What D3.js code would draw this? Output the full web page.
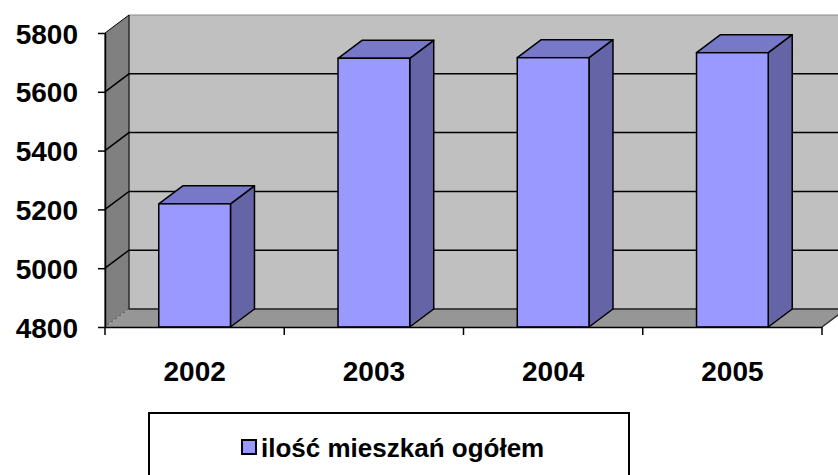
<!DOCTYPE html>
<html>
<head>
<meta charset="utf-8">
<script src="https://cdn.jsdelivr.net/npm/d3@7"></script>
<style>
  body { margin: 0; background: #fff; }
  text { font-family: "Liberation Sans", Arial, sans-serif; font-weight: bold; fill: #000; }
</style>
</head>
<body>
<div id="chart"></div>
<script>
// data
var years = ["2002", "2003", "2004", "2005"];
var values = [5219, 5714, 5716, 5733];
var yTicks = [4800, 5000, 5200, 5400, 5600, 5800];
var seriesName = "ilość mieszkań ogółem";

var W = 838, H = 475;
var plotLeft = 105, plotRight = 822, plotTop = 33, plotBottom = 327;
var dx = 24, dy = -18; // 3d depth

var svg = d3.select("#chart").append("svg")
  .attr("width", W).attr("height", H);

var x = d3.scaleBand().domain(years).range([plotLeft, plotRight])
  .paddingInner(0.6).paddingOuter(0.3);
var y = d3.scaleLinear().domain([4800, 5800]).range([plotBottom, plotTop]);

function pts(a) { return a.map(function(p){ return p.join(","); }).join(" "); }

var y0 = y(4800), y1 = y(5800);

//Walls
svg.append("polygon") // back wall
  .attr("points", pts([[plotLeft+dx, y1+dy], [plotRight+dx, y1+dy], [plotRight+dx, y0+dy], [plotLeft+dx, y0+dy]]))
  .style("fill", "#c0c0c0").style("stroke", "#8c8c8c").style("stroke-width", 1);
svg.append("polygon") // side wall
  .attr("points", pts([[plotLeft, y1], [plotLeft+dx, y1+dy], [plotLeft+dx, y0+dy], [plotLeft, y0]]))
  .style("fill", "#808080").style("stroke", "#000").style("stroke-width", 1);

//Gridlines
var grid = svg.append("g");
yTicks.slice(1, -1).forEach(function(t){
  grid.append("polyline")
    .attr("points", pts([[plotLeft, y(t)], [plotLeft+dx, y(t)+dy], [plotRight+dx, y(t)+dy]]))
    .style("fill", "none").style("stroke", "#000").style("stroke-width", 1.5);
});

//Floor
svg.append("polygon")
  .attr("points", pts([[plotLeft, y0], [plotRight, y0], [plotRight+dx, y0+dy], [plotLeft+dx, y0+dy]]))
  .style("fill", "#969696").style("stroke", "none");
svg.append("line")
  .attr("x1", plotLeft+dx).attr("x2", plotRight+dx).attr("y1", y0+dy).attr("y2", y0+dy)
  .style("stroke", "#222").style("stroke-width", 1.5);
svg.append("line")
  .attr("x1", plotLeft).attr("x2", plotLeft+dx).attr("y1", y0).attr("y2", y0+dy)
  .style("stroke", "#b4b4b4").style("stroke-width", 1).style("stroke-dasharray", "3,2");
svg.append("line")
  .attr("x1", plotRight).attr("x2", plotRight+dx).attr("y1", y0).attr("y2", y0+dy)
  .style("stroke", "#333").style("stroke-width", 1.5);

//Bars
var bars = svg.selectAll("g.bar").data(years).enter().append("g").attr("class", "bar");
var bw = x.bandwidth();
bars.append("polygon") // side
  .attr("points", function(d, i){
    var x1 = x(d) + bw, yt = y(values[i]);
    return pts([[x1, yt], [x1+dx, yt+dy], [x1+dx, y0+dy], [x1, y0]]);
  })
  .style("fill", "#6464a6").style("stroke", "#000").style("stroke-width", 1.5).style("stroke-linejoin", "round");
bars.append("polygon") // top
  .attr("points", function(d, i){
    var xs = x(d), yt = y(values[i]);
    return pts([[xs, yt], [xs+dx, yt+dy], [xs+bw+dx, yt+dy], [xs+bw, yt]]);
  })
  .style("fill", "#7878c8").style("stroke", "#000").style("stroke-width", 1.5).style("stroke-linejoin", "round");
bars.append("rect") // front
  .attr("x", function(d){ return x(d); })
  .attr("y", function(d, i){ return y(values[i]); })
  .attr("width", bw)
  .attr("height", function(d, i){ return y0 - y(values[i]); })
  .style("fill", "#9999ff").style("stroke", "#000").style("stroke-width", 1.5);

//Axes
var yAxis = svg.append("g")
  .attr("transform", "translate(" + plotLeft + ",0)")
  .call(d3.axisLeft(y).tickValues(yTicks).tickSize(7).tickSizeOuter(0).tickPadding(20).tickFormat(d3.format("d")));
yAxis.selectAll("text").style("font-size", "28px").attr("dy", "0.36em");
yAxis.selectAll(".tick line").style("stroke-width", 1.5);

var xAxis = svg.append("g")
  .attr("transform", "translate(0," + plotBottom + ")")
  .call(d3.axisBottom(x).tickSize(0).tickPadding(34));
xAxis.selectAll("text").style("font-size", "28px");
xAxis.selectAll(".tick line").remove();

// ticks sit between categories, not under them
var bounds = d3.range(years.length + 1).map(function(i){ return plotLeft + i * (plotRight - plotLeft) / years.length; });
xAxis.selectAll("line.edge").data(bounds).enter().append("line")
  .attr("class", "edge")
  .attr("x1", function(d){ return d; }).attr("x2", function(d){ return d; })
  .attr("y1", 0).attr("y2", 8)
  .style("stroke", "#000").style("stroke-width", 1.5);
svg.selectAll(".domain").style("stroke", "#000").style("stroke-width", 1.5);

//Legend
var lg = svg.append("g");
lg.append("rect")
  .attr("x", 149).attr("y", 413).attr("width", 480).attr("height", 80)
  .style("fill", "#fff").style("stroke", "#000").style("stroke-width", 2);
lg.append("rect")
  .attr("x", 242).attr("y", 440).attr("width", 14).attr("height", 14)
  .style("fill", "#9999ff").style("stroke", "#000").style("stroke-width", 2);
lg.append("text")
  .attr("x", 261).attr("y", 448).attr("dy", "0.36em")
  .style("font-size", "26px")
  .text(seriesName);
</script>
</body>
</html>
